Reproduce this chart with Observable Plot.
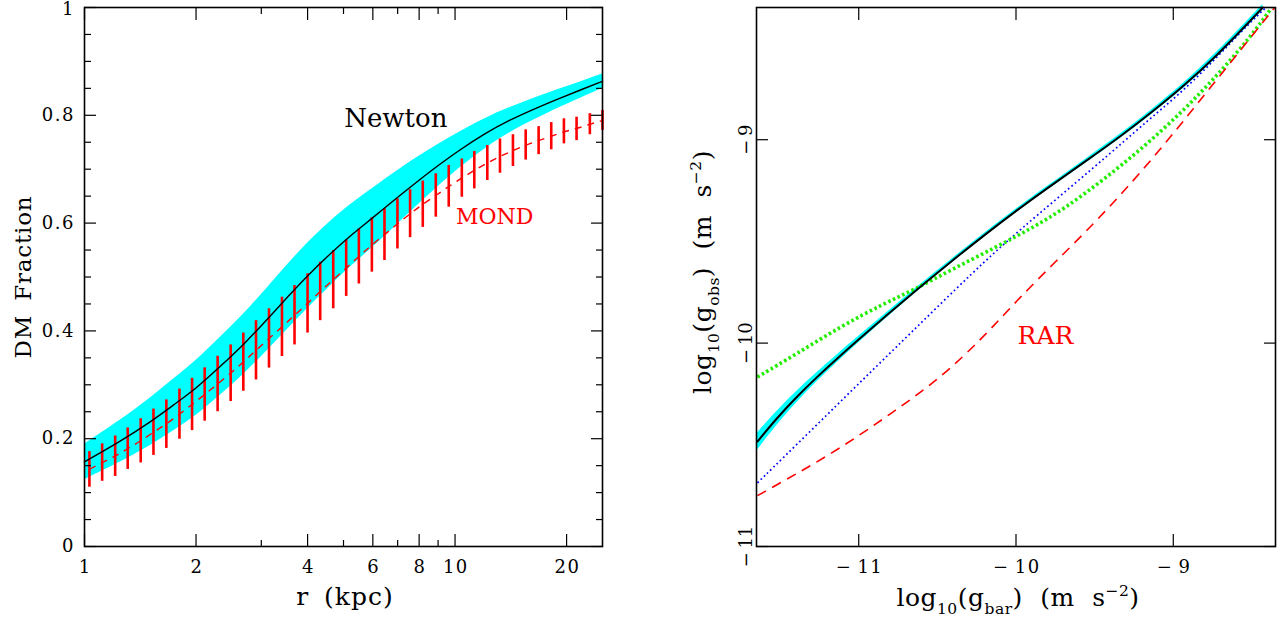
<!DOCTYPE html>
<html><head><meta charset="utf-8">
<script src="https://cdn.jsdelivr.net/npm/d3@7"></script>
<script src="https://cdn.jsdelivr.net/npm/@observablehq/plot@0.6"></script>
<style>
html,body{margin:0;padding:0;background:#fff;}
#wrap{position:relative;width:1284px;height:617px;overflow:hidden;background:#fff;}
#wrap svg{position:absolute;top:0;}
</style></head><body><div id="wrap"></div>
<script>
// ---------- Left panel data: DM fraction vs radius ----------
const rNewton = [1, 1.25, 1.5, 1.75, 2, 2.35, 2.7, 3.1, 3.5, 4, 4.6, 5.2, 6, 7, 8, 9, 10.3, 12, 14, 16.5, 19.2, 22, 25];
const fNewton = [0.157, 0.195, 0.230, 0.264, 0.293, 0.337, 0.376, 0.420, 0.460, 0.503, 0.543, 0.576, 0.610, 0.648, 0.680, 0.707, 0.736, 0.766, 0.791, 0.813, 0.832, 0.848, 0.863];
const eNewton = [0.033, 0.039, 0.044, 0.048, 0.051, 0.054, 0.056, 0.058, 0.060, 0.061, 0.060, 0.058, 0.055, 0.050, 0.044, 0.039, 0.033, 0.028, 0.023, 0.020, 0.017, 0.015, 0.0135];

const rMond = [1.031, 1.116, 1.210, 1.308, 1.418, 1.535, 1.663, 1.804, 1.951, 2.110, 2.287, 2.480, 2.683, 2.903, 3.147, 3.411, 3.688, 3.999, 4.326, 4.691, 5.084, 5.501, 5.964, 6.450, 6.991, 7.563, 8.183, 8.872, 9.616, 10.43, 11.27, 12.22, 13.22, 14.33, 15.51, 16.81, 18.18, 19.67, 21.28, 23.11, 25.0];
const fMond = [0.143, 0.156, 0.1675, 0.1815, 0.196, 0.212, 0.227, 0.2455, 0.2635, 0.282, 0.3015, 0.3215, 0.342, 0.364, 0.386, 0.4075, 0.429, 0.451, 0.473, 0.495, 0.5165, 0.538, 0.5595, 0.5785, 0.5985, 0.6175, 0.635, 0.651, 0.668, 0.6835, 0.698, 0.7115, 0.724, 0.7345, 0.745, 0.753, 0.761, 0.770, 0.775, 0.7835, 0.7905];
const loMond = [0.110, 0.121, 0.130, 0.143, 0.155, 0.169, 0.182, 0.199, 0.215, 0.2325, 0.250, 0.269, 0.288, 0.309, 0.331, 0.3525, 0.374, 0.396, 0.419, 0.441, 0.464, 0.487, 0.509, 0.5305, 0.552, 0.573, 0.592, 0.611, 0.6295, 0.648, 0.6635, 0.679, 0.6925, 0.705, 0.717, 0.727, 0.736, 0.747, 0.753, 0.764, 0.772];
const hiMond = [0.176, 0.1905, 0.205, 0.220, 0.237, 0.255, 0.272, 0.292, 0.312, 0.3315, 0.353, 0.374, 0.396, 0.419, 0.441, 0.4625, 0.484, 0.506, 0.5275, 0.549, 0.569, 0.589, 0.610, 0.6265, 0.645, 0.662, 0.678, 0.6915, 0.707, 0.719, 0.733, 0.744, 0.756, 0.764, 0.773, 0.779, 0.7865, 0.7935, 0.7965, 0.803, 0.809];

const rTickMajor = [1, 2, 4, 6, 8, 10, 20];
const rTickMinor = [3, 5, 7, 9];
const fTickMajor = [0, 0.2, 0.4, 0.6, 0.8, 1];
const fTickMinor = [0.05, 0.1, 0.15, 0.25, 0.3, 0.35, 0.45, 0.5, 0.55, 0.65, 0.7, 0.75, 0.85, 0.9, 0.95];

// ---------- Right panel data: radial acceleration relation ----------
const gbarBlack = [-11.644, -11.52, -11.4, -11.27, -11.15, -11.0, -10.82, -10.63, -10.42, -10.18, -10.0, -9.81, -9.57, -9.32, -9.145, -8.934, -8.721, -8.51, -8.431];
const gobsBlack = [-10.484, -10.368, -10.268, -10.170, -10.085, -9.982, -9.862, -9.737, -9.603, -9.456, -9.350, -9.243, -9.113, -8.975, -8.870, -8.737, -8.585, -8.415, -8.35];
const errBlack  = [0.042, 0.034, 0.028, 0.023, 0.019, 0.016, 0.013, 0.011, 0.010, 0.009, 0.009, 0.009, 0.010, 0.011, 0.012, 0.013, 0.014, 0.015, 0.015];

const gbarBlue = [-11.644, -11.318, -11.001, -10.684, -10.261, -10.0, -9.493, -9.145, -8.934, -8.721, -8.51, -8.41];
const gobsBlue = [-10.687, -10.441, -10.2, -9.961, -9.642, -9.458, -9.13, -8.894, -8.758, -8.594, -8.422, -8.35];

const gbarGreen = [-11.644, -11.4, -11.107, -10.85, -10.642, -10.4, -10.127, -9.9, -9.688, -9.45, -9.2, -8.934, -8.721, -8.51, -8.375];
const gobsGreen = [-10.167, -10.055, -9.915, -9.81, -9.735, -9.635, -9.528, -9.435, -9.337, -9.2, -9.045, -8.856, -8.684, -8.496, -8.352];

const gbarRed = [-11.644, -11.4, -11.107, -10.8, -10.473, -10.2, -10.0, -9.75, -9.493, -9.145, -8.75, -8.355];
const gobsRed = [-10.75, -10.645, -10.512, -10.35, -10.168, -9.965, -9.795, -9.60, -9.405, -9.11, -8.73, -8.35];

const gTicks = [-11, -10, -9];

// ---------- tables ----------
const newtonTable = rNewton.map((r, i) => ({r, f: fNewton[i], lo: fNewton[i] - eNewton[i], hi: fNewton[i] + eNewton[i]}));
const mondTable = rMond.map((r, i) => ({r, f: fMond[i], lo: loMond[i], hi: hiMond[i]}));
const blackTable = gbarBlack.map((x, i) => ({x, y: gobsBlack[i], lo: gobsBlack[i] - errBlack[i], hi: gobsBlack[i] + errBlack[i]}));
const blueTable = gbarBlue.map((x, i) => ({x, y: gobsBlue[i]}));
const greenTable = gbarGreen.map((x, i) => ({x, y: gobsGreen[i]}));
const redTable = gbarRed.map((x, i) => ({x, y: gobsRed[i]}));

const FONT = "DejaVu Serif";
const RED = "#ff0000", CYAN = "#00ffff", BLUE = "#0000ff", GREEN = "#22ee00";
const minus = d => (d < 0 ? "\u2212\u2009" : "") + Math.abs(d);
const curve = "basis";
const TICKFS = 18;
const fTop = fTickMajor[fTickMajor.length - 1];

function ticksX(values, size) {
  return [
    Plot.axisX(values, {anchor: "bottom", tickSize: -size, fill: "none", label: null, strokeWidth: 1.2}),
    Plot.axisX(values, {anchor: "top", tickSize: -size, fill: "none", label: null, strokeWidth: 1.2})
  ];
}
function ticksY(values, size) {
  return [
    Plot.axisY(values, {anchor: "left", tickSize: -size, fill: "none", label: null, strokeWidth: 1.2}),
    Plot.axisY(values, {anchor: "right", tickSize: -size, fill: "none", label: null, strokeWidth: 1.2})
  ];
}

const leftPlot = Plot.plot({
  width: 640, height: 617,
  marginLeft: 84, marginRight: 38, marginTop: 7, marginBottom: 71,
  style: {fontFamily: FONT, background: "white", color: "black", overflow: "visible"},
  x: {type: "log", domain: [1, 25], axis: null},
  y: {domain: [0, 1], axis: null},
  marks: [
    Plot.areaY(newtonTable, {x: "r", y1: "lo", y2: "hi", fill: CYAN, curve}),
    Plot.ruleX(mondTable, {x: "r", y1: "lo", y2: "hi", stroke: RED, strokeWidth: 2.6}),
    Plot.line(mondTable, {x: "r", y: "f", stroke: RED, strokeWidth: 1.4, strokeDasharray: "7,6", strokeLinecap: "butt", curve}),
    Plot.line(newtonTable, {x: "r", y: "f", stroke: "black", strokeWidth: 1.4, curve}),
    ...ticksX(rTickMajor, 12),
    ...ticksX(rTickMinor, 6),
    ...ticksY(fTickMajor, 12),
    ...ticksY(fTickMinor, 7),
    Plot.text(rTickMajor, {x: d => d, frameAnchor: "bottom", dy: 14, dx: 0.8, lineAnchor: "top", text: d => String(d), fontSize: TICKFS, fill: "black", className: "ticklab"}),
    Plot.text(fTickMajor.filter(d => d !== fTop), {y: d => d, frameAnchor: "left", dx: -9.5, textAnchor: "end", lineAnchor: "middle", text: d => String(d), fontSize: TICKFS, fill: "black", className: "ticklab"}),
    Plot.text([fTop], {y: d => d, frameAnchor: "left", dx: -9.5, dy: 1.5, textAnchor: "end", lineAnchor: "middle", text: d => String(d), fontSize: TICKFS, fill: "black", className: "ticklab"}),
    Plot.frame({stroke: "black", strokeWidth: 1.6}),
    Plot.text(["Newton"], {x: 5.02, y: 0.778, text: d => d, textAnchor: "start", lineAnchor: "bottom", fontSize: 26, fill: "black"}),
    Plot.text(["MOND"], {x: 10.06, y: 0.599, text: d => d, textAnchor: "start", lineAnchor: "bottom", fontSize: 22, fill: RED})
  ]
});

const rightPlot = Plot.plot({
  width: 644, height: 617,
  marginLeft: 116, marginRight: 9, marginTop: 7, marginBottom: 71,
  style: {fontFamily: FONT, background: "white", color: "black", overflow: "visible"},
  x: {domain: [-11.65, -8.35], axis: null},
  y: {domain: [-11, -8.35], axis: null},
  marks: [
    Plot.areaY(blackTable, {x: "x", y1: "lo", y2: "hi", fill: CYAN, curve}),
    Plot.line(blueTable, {x: "x", y: "y", stroke: BLUE, strokeWidth: 1.7, strokeDasharray: "1.7,2.8", strokeLinecap: "butt", curve}),
    Plot.line(greenTable, {x: "x", y: "y", stroke: GREEN, strokeWidth: 3.6, strokeDasharray: "2.6,2.6", strokeLinecap: "butt", curve}),
    Plot.line(redTable, {x: "x", y: "y", stroke: RED, strokeWidth: 1.6, strokeDasharray: "10,7", strokeLinecap: "butt", curve}),
    Plot.line(blackTable, {x: "x", y: "y", stroke: "black", strokeWidth: 2, curve}),
    ...ticksX(gTicks, 12),
    ...ticksY(gTicks, 12),
    Plot.text(gTicks, {x: d => d, frameAnchor: "bottom", dy: 14, dx: 0.8, lineAnchor: "top", text: minus, fontSize: TICKFS, fill: "black", className: "ticklab"}),
    Plot.text(gTicks, {y: d => d, frameAnchor: "left", text: minus, rotate: -90, dx: -5, textAnchor: "middle", lineAnchor: "bottom", fontSize: TICKFS, fill: "black"}),
    Plot.frame({stroke: "black", strokeWidth: 1.6}),
    Plot.text(["RAR"], {x: -9.99, y: -10.005, text: d => d, textAnchor: "start", lineAnchor: "bottom", fontSize: 25, fill: RED})
  ]
});

const wrap = document.getElementById("wrap");
leftPlot.style.left = "0px";
rightPlot.style.left = "640px";
wrap.appendChild(leftPlot);
wrap.appendChild(rightPlot);
d3.selectAll(".ticklab text").style("letter-spacing", "1.5px");

// axis titles with sub/superscripts
function title(svg, {x, y, rotate = 0, size, parts, spacing = 0, words = 6}) {
  const t = d3.select(svg).append("text")
    .attr("transform", `translate(${x},${y}) rotate(${rotate})`)
    .attr("text-anchor", "middle")
    .attr("font-family", FONT)
    .attr("font-size", size)
    .attr("fill", "black")
    .style("letter-spacing", spacing + "px")
    .style("word-spacing", words + "px");
  let shift = 0;
  for (const p of parts) {
    const s = p.sub ? 0.3 * size : p.sup ? -0.42 * size : 0;
    t.append("tspan")
      .attr("dy", s - shift)
      .attr("font-size", p.sub || p.sup ? size * 0.62 : size)
      .text(p.t);
    shift = s;
  }
}
title(leftPlot, {x: 31, y: 277, rotate: -90, size: 23, spacing: 0.8, parts: [{t: "DM Fraction"}]});
title(leftPlot, {x: 345, y: 605, size: 25, spacing: 1, parts: [{t: "r (kpc)"}]});
title(rightPlot, {x: 378, y: 606, size: 25, spacing: 0.5, words: 9, parts: [
  {t: "log"}, {t: "10", sub: true}, {t: "(g"}, {t: "bar", sub: true}, {t: ") (m s"}, {t: "\u22122", sup: true}, {t: ")"}
]});
title(rightPlot, {x: 71, y: 272, rotate: -90, size: 25, spacing: 0.5, words: 9, parts: [
  {t: "log"}, {t: "10", sub: true}, {t: "(g"}, {t: "obs", sub: true}, {t: ") (m s"}, {t: "\u22122", sup: true}, {t: ")"}
]});
</script></body></html>
